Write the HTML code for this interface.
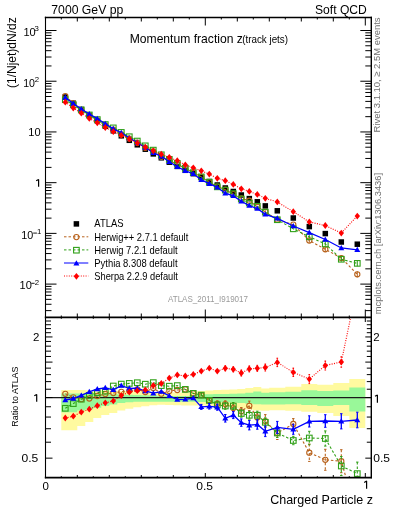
<!DOCTYPE html><html><head><meta charset="utf-8"><style>html,body{margin:0;padding:0;background:#fff;width:393px;height:512px;overflow:hidden}</style></head><body><svg width="393" height="512" viewBox="0 0 393 512" style="display:block;will-change:transform">
<defs><clipPath id="cm"><rect x="45.5" y="17.5" width="326" height="300"/></clipPath><clipPath id="cr"><rect x="45.5" y="317.5" width="326" height="160.4"/></clipPath></defs>
<rect width="393" height="512" fill="#fff"/>
<g clip-path="url(#cr)">
<path d="M61.30,390.00 L69.30,390.00 L69.30,390.00 L77.30,390.00 L77.30,390.00 L85.30,390.00 L85.30,390.30 L93.30,390.30 L93.30,390.50 L101.30,390.50 L101.30,390.70 L109.30,390.70 L109.30,390.80 L117.30,390.80 L117.30,391.00 L125.30,391.00 L125.30,391.20 L133.30,391.20 L133.30,391.50 L141.30,391.50 L141.30,391.80 L149.30,391.80 L149.30,392.00 L157.30,392.00 L157.30,392.30 L165.30,392.30 L165.30,392.50 L173.30,392.50 L173.30,392.50 L181.30,392.50 L181.30,392.50 L189.30,392.50 L189.30,392.00 L197.30,392.00 L197.30,391.00 L205.30,391.00 L205.30,390.50 L213.30,390.50 L213.30,390.00 L221.30,390.00 L221.30,389.80 L229.30,389.80 L229.30,389.50 L237.30,389.50 L237.30,389.00 L245.30,389.00 L245.30,388.00 L253.30,388.00 L253.30,387.10 L261.30,387.10 L261.30,388.40 L269.30,388.40 L269.30,387.70 L285.30,387.70 L285.30,386.70 L301.30,386.70 L301.30,383.90 L317.30,383.90 L317.30,384.80 L333.30,384.80 L333.30,383.10 L349.30,383.10 L349.30,379.00 L365.30,379.00 L365.30,427.90 L349.30,427.90 L349.30,416.00 L333.30,416.00 L333.30,413.00 L317.30,413.00 L317.30,411.80 L301.30,411.80 L301.30,410.80 L285.30,410.80 L285.30,410.30 L269.30,410.30 L269.30,410.80 L261.30,410.80 L261.30,410.50 L253.30,410.50 L253.30,409.50 L245.30,409.50 L245.30,408.50 L237.30,408.50 L237.30,407.50 L229.30,407.50 L229.30,406.50 L221.30,406.50 L221.30,406.50 L213.30,406.50 L213.30,406.00 L205.30,406.00 L205.30,405.50 L197.30,405.50 L197.30,405.50 L189.30,405.50 L189.30,405.40 L181.30,405.40 L181.30,405.20 L173.30,405.20 L173.30,405.00 L165.30,405.00 L165.30,404.80 L157.30,404.80 L157.30,405.30 L149.30,405.30 L149.30,406.20 L141.30,406.20 L141.30,407.30 L133.30,407.30 L133.30,408.70 L125.30,408.70 L125.30,410.50 L117.30,410.50 L117.30,413.00 L109.30,413.00 L109.30,415.00 L101.30,415.00 L101.30,418.00 L93.30,418.00 L93.30,422.00 L85.30,422.00 L85.30,426.00 L77.30,426.00 L77.30,430.30 L69.30,430.30 L69.30,430.30 L61.30,430.30Z" fill="#fffaa0"/>
<path d="M61.30,393.40 L69.30,393.40 L69.30,393.40 L77.30,393.40 L77.30,393.50 L85.30,393.50 L85.30,393.80 L93.30,393.80 L93.30,394.00 L101.30,394.00 L101.30,394.20 L109.30,394.20 L109.30,394.30 L117.30,394.30 L117.30,394.50 L125.30,394.50 L125.30,394.70 L133.30,394.70 L133.30,395.00 L141.30,395.00 L141.30,395.30 L149.30,395.30 L149.30,395.50 L157.30,395.50 L157.30,396.00 L165.30,396.00 L165.30,396.00 L173.30,396.00 L173.30,396.00 L181.30,396.00 L181.30,396.00 L189.30,396.00 L189.30,395.50 L197.30,395.50 L197.30,394.50 L205.30,394.50 L205.30,394.30 L213.30,394.30 L213.30,394.10 L221.30,394.10 L221.30,394.10 L229.30,394.10 L229.30,393.80 L237.30,393.80 L237.30,393.50 L245.30,393.50 L245.30,392.80 L253.30,392.80 L253.30,391.50 L261.30,391.50 L261.30,392.80 L269.30,392.80 L269.30,392.20 L285.30,392.20 L285.30,391.80 L301.30,391.80 L301.30,390.30 L317.30,390.30 L317.30,390.90 L333.30,390.90 L333.30,390.50 L349.30,390.50 L349.30,387.50 L365.30,387.50 L365.30,411.50 L349.30,411.50 L349.30,405.00 L333.30,405.00 L333.30,405.90 L317.30,405.90 L317.30,404.90 L301.30,404.90 L301.30,404.20 L285.30,404.20 L285.30,404.60 L269.30,404.60 L269.30,404.60 L261.30,404.60 L261.30,404.20 L253.30,404.20 L253.30,403.80 L245.30,403.80 L245.30,403.00 L237.30,403.00 L237.30,402.50 L229.30,402.50 L229.30,402.20 L221.30,402.20 L221.30,402.20 L213.30,402.20 L213.30,402.00 L205.30,402.00 L205.30,402.00 L197.30,402.00 L197.30,401.80 L189.30,401.80 L189.30,401.80 L181.30,401.80 L181.30,401.80 L173.30,401.80 L173.30,401.80 L165.30,401.80 L165.30,401.80 L157.30,401.80 L157.30,401.80 L149.30,401.80 L149.30,401.80 L141.30,401.80 L141.30,401.80 L133.30,401.80 L133.30,402.20 L125.30,402.20 L125.30,403.10 L117.30,403.10 L117.30,404.50 L109.30,404.50 L109.30,406.10 L101.30,406.10 L101.30,407.80 L93.30,407.80 L93.30,409.20 L85.30,409.20 L85.30,410.60 L77.30,410.60 L77.30,412.30 L69.30,412.30 L69.30,412.30 L61.30,412.30Z" fill="#99f899"/>
<line x1="45.5" y1="397.55" x2="371.5" y2="397.55" stroke="#1a1a1a" stroke-width="1.3"/>
</g>
<g clip-path="url(#cr)">
<path d="M65.30,393.80 L73.30,397.30 L81.30,399.20 L89.30,398.50 L97.30,396.00 L105.30,394.00 L113.30,393.00 L121.30,391.80 L129.30,390.80 L137.30,389.40 L145.30,392.00 L153.30,388.00 L161.30,393.70 L169.30,391.00 L177.30,390.00 L185.30,389.40 L193.30,393.40 L201.30,395.10 L209.30,400.40 L217.30,403.80 L225.30,404.10 L233.30,408.10 L241.30,411.30 L249.30,405.80 L257.30,417.50 L265.30,421.10 L277.30,433.00 L293.30,424.00 L309.30,452.70 L325.30,459.80 L341.30,461.20 L357.30,517.00" fill="none" stroke="#b8621c" stroke-width="1.1" stroke-dasharray="2.5 2"/>
<path d="M201.30,392.90V397.30" stroke="#b8621c" stroke-width="1.1" stroke-dasharray="2.5 2"/>
<path d="M200.10,392.90H202.50M200.10,397.30H202.50" stroke="#b8621c" stroke-width="1"/>
<path d="M209.30,397.90V402.90" stroke="#b8621c" stroke-width="1.1" stroke-dasharray="2.5 2"/>
<path d="M208.10,397.90H210.50M208.10,402.90H210.50" stroke="#b8621c" stroke-width="1"/>
<path d="M217.30,400.80V406.80" stroke="#b8621c" stroke-width="1.1" stroke-dasharray="2.5 2"/>
<path d="M216.10,400.80H218.50M216.10,406.80H218.50" stroke="#b8621c" stroke-width="1"/>
<path d="M225.30,400.80V407.40" stroke="#b8621c" stroke-width="1.1" stroke-dasharray="2.5 2"/>
<path d="M224.10,400.80H226.50M224.10,407.40H226.50" stroke="#b8621c" stroke-width="1"/>
<path d="M233.30,404.60V411.60" stroke="#b8621c" stroke-width="1.1" stroke-dasharray="2.5 2"/>
<path d="M232.10,404.60H234.50M232.10,411.60H234.50" stroke="#b8621c" stroke-width="1"/>
<path d="M241.30,407.50V415.10" stroke="#b8621c" stroke-width="1.1" stroke-dasharray="2.5 2"/>
<path d="M240.10,407.50H242.50M240.10,415.10H242.50" stroke="#b8621c" stroke-width="1"/>
<path d="M249.30,401.10V410.50" stroke="#b8621c" stroke-width="1.1" stroke-dasharray="2.5 2"/>
<path d="M248.10,401.10H250.50M248.10,410.50H250.50" stroke="#b8621c" stroke-width="1"/>
<path d="M257.30,413.00V422.00" stroke="#b8621c" stroke-width="1.1" stroke-dasharray="2.5 2"/>
<path d="M256.10,413.00H258.50M256.10,422.00H258.50" stroke="#b8621c" stroke-width="1"/>
<path d="M265.30,414.60V427.60" stroke="#b8621c" stroke-width="1.1" stroke-dasharray="2.5 2"/>
<path d="M264.10,414.60H266.50M264.10,427.60H266.50" stroke="#b8621c" stroke-width="1"/>
<path d="M277.30,426.50V439.50" stroke="#b8621c" stroke-width="1.1" stroke-dasharray="2.5 2"/>
<path d="M276.10,426.50H278.50M276.10,439.50H278.50" stroke="#b8621c" stroke-width="1"/>
<path d="M293.30,418.60V429.40" stroke="#b8621c" stroke-width="1.1" stroke-dasharray="2.5 2"/>
<path d="M292.10,418.60H294.50M292.10,429.40H294.50" stroke="#b8621c" stroke-width="1"/>
<path d="M309.30,444.00V461.40" stroke="#b8621c" stroke-width="1.1" stroke-dasharray="2.5 2"/>
<path d="M308.10,444.00H310.50M308.10,461.40H310.50" stroke="#b8621c" stroke-width="1"/>
<path d="M325.30,449.30V470.30" stroke="#b8621c" stroke-width="1.1" stroke-dasharray="2.5 2"/>
<path d="M324.10,449.30H326.50M324.10,470.30H326.50" stroke="#b8621c" stroke-width="1"/>
<path d="M341.30,449.70V472.70" stroke="#b8621c" stroke-width="1.1" stroke-dasharray="2.5 2"/>
<path d="M340.10,449.70H342.50M340.10,472.70H342.50" stroke="#b8621c" stroke-width="1"/>
<path d="M357.30,505.00V529.00" stroke="#b8621c" stroke-width="1.1" stroke-dasharray="2.5 2"/>
<path d="M356.10,505.00H358.50M356.10,529.00H358.50" stroke="#b8621c" stroke-width="1"/>
<circle cx="65.30" cy="393.80" r="2.6" fill="none" stroke="#b8621c" stroke-width="1.1"/>
<circle cx="73.30" cy="397.30" r="2.6" fill="none" stroke="#b8621c" stroke-width="1.1"/>
<circle cx="81.30" cy="399.20" r="2.6" fill="none" stroke="#b8621c" stroke-width="1.1"/>
<circle cx="89.30" cy="398.50" r="2.6" fill="none" stroke="#b8621c" stroke-width="1.1"/>
<circle cx="97.30" cy="396.00" r="2.6" fill="none" stroke="#b8621c" stroke-width="1.1"/>
<circle cx="105.30" cy="394.00" r="2.6" fill="none" stroke="#b8621c" stroke-width="1.1"/>
<circle cx="113.30" cy="393.00" r="2.6" fill="none" stroke="#b8621c" stroke-width="1.1"/>
<circle cx="121.30" cy="391.80" r="2.6" fill="none" stroke="#b8621c" stroke-width="1.1"/>
<circle cx="129.30" cy="390.80" r="2.6" fill="none" stroke="#b8621c" stroke-width="1.1"/>
<circle cx="137.30" cy="389.40" r="2.6" fill="none" stroke="#b8621c" stroke-width="1.1"/>
<circle cx="145.30" cy="392.00" r="2.6" fill="none" stroke="#b8621c" stroke-width="1.1"/>
<circle cx="153.30" cy="388.00" r="2.6" fill="none" stroke="#b8621c" stroke-width="1.1"/>
<circle cx="161.30" cy="393.70" r="2.6" fill="none" stroke="#b8621c" stroke-width="1.1"/>
<circle cx="169.30" cy="391.00" r="2.6" fill="none" stroke="#b8621c" stroke-width="1.1"/>
<circle cx="177.30" cy="390.00" r="2.6" fill="none" stroke="#b8621c" stroke-width="1.1"/>
<circle cx="185.30" cy="389.40" r="2.6" fill="none" stroke="#b8621c" stroke-width="1.1"/>
<circle cx="193.30" cy="393.40" r="2.6" fill="none" stroke="#b8621c" stroke-width="1.1"/>
<circle cx="201.30" cy="395.10" r="2.6" fill="none" stroke="#b8621c" stroke-width="1.1"/>
<circle cx="209.30" cy="400.40" r="2.6" fill="none" stroke="#b8621c" stroke-width="1.1"/>
<circle cx="217.30" cy="403.80" r="2.6" fill="none" stroke="#b8621c" stroke-width="1.1"/>
<circle cx="225.30" cy="404.10" r="2.6" fill="none" stroke="#b8621c" stroke-width="1.1"/>
<circle cx="233.30" cy="408.10" r="2.6" fill="none" stroke="#b8621c" stroke-width="1.1"/>
<circle cx="241.30" cy="411.30" r="2.6" fill="none" stroke="#b8621c" stroke-width="1.1"/>
<circle cx="249.30" cy="405.80" r="2.6" fill="none" stroke="#b8621c" stroke-width="1.1"/>
<circle cx="257.30" cy="417.50" r="2.6" fill="none" stroke="#b8621c" stroke-width="1.1"/>
<circle cx="265.30" cy="421.10" r="2.6" fill="none" stroke="#b8621c" stroke-width="1.1"/>
<circle cx="277.30" cy="433.00" r="2.6" fill="none" stroke="#b8621c" stroke-width="1.1"/>
<circle cx="293.30" cy="424.00" r="2.6" fill="none" stroke="#b8621c" stroke-width="1.1"/>
<circle cx="309.30" cy="452.70" r="2.6" fill="none" stroke="#b8621c" stroke-width="1.1"/>
<circle cx="325.30" cy="459.80" r="2.6" fill="none" stroke="#b8621c" stroke-width="1.1"/>
<circle cx="341.30" cy="461.20" r="2.6" fill="none" stroke="#b8621c" stroke-width="1.1"/>
<circle cx="357.30" cy="517.00" r="2.6" fill="none" stroke="#b8621c" stroke-width="1.1"/>
<path d="M65.30,408.30 L73.30,403.60 L81.30,399.20 L89.30,395.40 L97.30,392.70 L105.30,391.10 L113.30,386.00 L121.30,384.10 L129.30,383.40 L137.30,382.70 L145.30,384.20 L153.30,382.60 L161.30,385.60 L169.30,386.20 L177.30,385.60 L185.30,389.40 L193.30,393.40 L201.30,395.10 L209.30,400.40 L217.30,404.90 L225.30,406.00 L233.30,406.00 L241.30,413.50 L249.30,415.30 L257.30,415.20 L265.30,422.30 L277.30,433.00 L293.30,440.50 L309.30,438.00 L325.30,438.50 L341.30,466.00 L357.30,473.60" fill="none" stroke="#30a018" stroke-width="1.1" stroke-dasharray="2.5 2"/>
<path d="M201.30,392.90V397.30" stroke="#30a018" stroke-width="1.1" stroke-dasharray="2.5 2"/>
<path d="M200.10,392.90H202.50M200.10,397.30H202.50" stroke="#30a018" stroke-width="1"/>
<path d="M209.30,397.90V402.90" stroke="#30a018" stroke-width="1.1" stroke-dasharray="2.5 2"/>
<path d="M208.10,397.90H210.50M208.10,402.90H210.50" stroke="#30a018" stroke-width="1"/>
<path d="M217.30,401.90V407.90" stroke="#30a018" stroke-width="1.1" stroke-dasharray="2.5 2"/>
<path d="M216.10,401.90H218.50M216.10,407.90H218.50" stroke="#30a018" stroke-width="1"/>
<path d="M225.30,402.70V409.30" stroke="#30a018" stroke-width="1.1" stroke-dasharray="2.5 2"/>
<path d="M224.10,402.70H226.50M224.10,409.30H226.50" stroke="#30a018" stroke-width="1"/>
<path d="M233.30,402.50V409.50" stroke="#30a018" stroke-width="1.1" stroke-dasharray="2.5 2"/>
<path d="M232.10,402.50H234.50M232.10,409.50H234.50" stroke="#30a018" stroke-width="1"/>
<path d="M241.30,409.80V417.20" stroke="#30a018" stroke-width="1.1" stroke-dasharray="2.5 2"/>
<path d="M240.10,409.80H242.50M240.10,417.20H242.50" stroke="#30a018" stroke-width="1"/>
<path d="M249.30,411.40V419.20" stroke="#30a018" stroke-width="1.1" stroke-dasharray="2.5 2"/>
<path d="M248.10,411.40H250.50M248.10,419.20H250.50" stroke="#30a018" stroke-width="1"/>
<path d="M257.30,411.20V419.20" stroke="#30a018" stroke-width="1.1" stroke-dasharray="2.5 2"/>
<path d="M256.10,411.20H258.50M256.10,419.20H258.50" stroke="#30a018" stroke-width="1"/>
<path d="M265.30,417.80V426.80" stroke="#30a018" stroke-width="1.1" stroke-dasharray="2.5 2"/>
<path d="M264.10,417.80H266.50M264.10,426.80H266.50" stroke="#30a018" stroke-width="1"/>
<path d="M277.30,428.50V437.50" stroke="#30a018" stroke-width="1.1" stroke-dasharray="2.5 2"/>
<path d="M276.10,428.50H278.50M276.10,437.50H278.50" stroke="#30a018" stroke-width="1"/>
<path d="M293.30,436.30V444.70" stroke="#30a018" stroke-width="1.1" stroke-dasharray="2.5 2"/>
<path d="M292.10,436.30H294.50M292.10,444.70H294.50" stroke="#30a018" stroke-width="1"/>
<path d="M309.30,431.30V444.70" stroke="#30a018" stroke-width="1.1" stroke-dasharray="2.5 2"/>
<path d="M308.10,431.30H310.50M308.10,444.70H310.50" stroke="#30a018" stroke-width="1"/>
<path d="M325.30,430.90V446.10" stroke="#30a018" stroke-width="1.1" stroke-dasharray="2.5 2"/>
<path d="M324.10,430.90H326.50M324.10,446.10H326.50" stroke="#30a018" stroke-width="1"/>
<path d="M341.30,456.50V475.50" stroke="#30a018" stroke-width="1.1" stroke-dasharray="2.5 2"/>
<path d="M340.10,456.50H342.50M340.10,475.50H342.50" stroke="#30a018" stroke-width="1"/>
<path d="M357.30,462.10V485.10" stroke="#30a018" stroke-width="1.1" stroke-dasharray="2.5 2"/>
<path d="M356.10,462.10H358.50M356.10,485.10H358.50" stroke="#30a018" stroke-width="1"/>
<rect x="62.50" y="405.50" width="5.6" height="5.6" fill="none" stroke="#30a018" stroke-width="1.1"/>
<rect x="70.50" y="400.80" width="5.6" height="5.6" fill="none" stroke="#30a018" stroke-width="1.1"/>
<rect x="78.50" y="396.40" width="5.6" height="5.6" fill="none" stroke="#30a018" stroke-width="1.1"/>
<rect x="86.50" y="392.60" width="5.6" height="5.6" fill="none" stroke="#30a018" stroke-width="1.1"/>
<rect x="94.50" y="389.90" width="5.6" height="5.6" fill="none" stroke="#30a018" stroke-width="1.1"/>
<rect x="102.50" y="388.30" width="5.6" height="5.6" fill="none" stroke="#30a018" stroke-width="1.1"/>
<rect x="110.50" y="383.20" width="5.6" height="5.6" fill="none" stroke="#30a018" stroke-width="1.1"/>
<rect x="118.50" y="381.30" width="5.6" height="5.6" fill="none" stroke="#30a018" stroke-width="1.1"/>
<rect x="126.50" y="380.60" width="5.6" height="5.6" fill="none" stroke="#30a018" stroke-width="1.1"/>
<rect x="134.50" y="379.90" width="5.6" height="5.6" fill="none" stroke="#30a018" stroke-width="1.1"/>
<rect x="142.50" y="381.40" width="5.6" height="5.6" fill="none" stroke="#30a018" stroke-width="1.1"/>
<rect x="150.50" y="379.80" width="5.6" height="5.6" fill="none" stroke="#30a018" stroke-width="1.1"/>
<rect x="158.50" y="382.80" width="5.6" height="5.6" fill="none" stroke="#30a018" stroke-width="1.1"/>
<rect x="166.50" y="383.40" width="5.6" height="5.6" fill="none" stroke="#30a018" stroke-width="1.1"/>
<rect x="174.50" y="382.80" width="5.6" height="5.6" fill="none" stroke="#30a018" stroke-width="1.1"/>
<rect x="182.50" y="386.60" width="5.6" height="5.6" fill="none" stroke="#30a018" stroke-width="1.1"/>
<rect x="190.50" y="390.60" width="5.6" height="5.6" fill="none" stroke="#30a018" stroke-width="1.1"/>
<rect x="198.50" y="392.30" width="5.6" height="5.6" fill="none" stroke="#30a018" stroke-width="1.1"/>
<rect x="206.50" y="397.60" width="5.6" height="5.6" fill="none" stroke="#30a018" stroke-width="1.1"/>
<rect x="214.50" y="402.10" width="5.6" height="5.6" fill="none" stroke="#30a018" stroke-width="1.1"/>
<rect x="222.50" y="403.20" width="5.6" height="5.6" fill="none" stroke="#30a018" stroke-width="1.1"/>
<rect x="230.50" y="403.20" width="5.6" height="5.6" fill="none" stroke="#30a018" stroke-width="1.1"/>
<rect x="238.50" y="410.70" width="5.6" height="5.6" fill="none" stroke="#30a018" stroke-width="1.1"/>
<rect x="246.50" y="412.50" width="5.6" height="5.6" fill="none" stroke="#30a018" stroke-width="1.1"/>
<rect x="254.50" y="412.40" width="5.6" height="5.6" fill="none" stroke="#30a018" stroke-width="1.1"/>
<rect x="262.50" y="419.50" width="5.6" height="5.6" fill="none" stroke="#30a018" stroke-width="1.1"/>
<rect x="274.50" y="430.20" width="5.6" height="5.6" fill="none" stroke="#30a018" stroke-width="1.1"/>
<rect x="290.50" y="437.70" width="5.6" height="5.6" fill="none" stroke="#30a018" stroke-width="1.1"/>
<rect x="306.50" y="435.20" width="5.6" height="5.6" fill="none" stroke="#30a018" stroke-width="1.1"/>
<rect x="322.50" y="435.70" width="5.6" height="5.6" fill="none" stroke="#30a018" stroke-width="1.1"/>
<rect x="338.50" y="463.20" width="5.6" height="5.6" fill="none" stroke="#30a018" stroke-width="1.1"/>
<rect x="354.50" y="470.80" width="5.6" height="5.6" fill="none" stroke="#30a018" stroke-width="1.1"/>
<path d="M65.30,400.00 L73.30,398.60 L81.30,395.40 L89.30,391.80 L97.30,389.00 L105.30,387.80 L113.30,389.80 L121.30,385.60 L129.30,388.30 L137.30,388.20 L145.30,391.00 L153.30,393.20 L161.30,391.60 L169.30,395.90 L177.30,399.60 L185.30,399.40 L193.30,398.10 L201.30,406.90 L209.30,406.30 L217.30,407.20 L225.30,418.30 L233.30,415.10 L241.30,422.60 L249.30,425.20 L257.30,424.50 L265.30,431.30 L277.30,427.40 L293.30,429.30 L309.30,421.40 L325.30,421.00 L341.30,421.30 L357.30,420.00" fill="none" stroke="#0000ff" stroke-width="1.3"/>
<path d="M201.30,404.40V409.40" stroke="#0000ff" stroke-width="1.3"/>
<path d="M200.10,404.40H202.50M200.10,409.40H202.50" stroke="#0000ff" stroke-width="1"/>
<path d="M209.30,403.50V409.10" stroke="#0000ff" stroke-width="1.3"/>
<path d="M208.10,403.50H210.50M208.10,409.10H210.50" stroke="#0000ff" stroke-width="1"/>
<path d="M217.30,404.20V410.20" stroke="#0000ff" stroke-width="1.3"/>
<path d="M216.10,404.20H218.50M216.10,410.20H218.50" stroke="#0000ff" stroke-width="1"/>
<path d="M225.30,414.50V422.10" stroke="#0000ff" stroke-width="1.3"/>
<path d="M224.10,414.50H226.50M224.10,422.10H226.50" stroke="#0000ff" stroke-width="1"/>
<path d="M233.30,411.60V418.60" stroke="#0000ff" stroke-width="1.3"/>
<path d="M232.10,411.60H234.50M232.10,418.60H234.50" stroke="#0000ff" stroke-width="1"/>
<path d="M241.30,418.90V426.30" stroke="#0000ff" stroke-width="1.3"/>
<path d="M240.10,418.90H242.50M240.10,426.30H242.50" stroke="#0000ff" stroke-width="1"/>
<path d="M249.30,420.50V429.90" stroke="#0000ff" stroke-width="1.3"/>
<path d="M248.10,420.50H250.50M248.10,429.90H250.50" stroke="#0000ff" stroke-width="1"/>
<path d="M257.30,419.80V429.20" stroke="#0000ff" stroke-width="1.3"/>
<path d="M256.10,419.80H258.50M256.10,429.20H258.50" stroke="#0000ff" stroke-width="1"/>
<path d="M265.30,426.00V436.60" stroke="#0000ff" stroke-width="1.3"/>
<path d="M264.10,426.00H266.50M264.10,436.60H266.50" stroke="#0000ff" stroke-width="1"/>
<path d="M277.30,421.40V433.40" stroke="#0000ff" stroke-width="1.3"/>
<path d="M276.10,421.40H278.50M276.10,433.40H278.50" stroke="#0000ff" stroke-width="1"/>
<path d="M293.30,424.30V434.30" stroke="#0000ff" stroke-width="1.3"/>
<path d="M292.10,424.30H294.50M292.10,434.30H294.50" stroke="#0000ff" stroke-width="1"/>
<path d="M309.30,415.80V427.00" stroke="#0000ff" stroke-width="1.3"/>
<path d="M308.10,415.80H310.50M308.10,427.00H310.50" stroke="#0000ff" stroke-width="1"/>
<path d="M325.30,414.70V427.30" stroke="#0000ff" stroke-width="1.3"/>
<path d="M324.10,414.70H326.50M324.10,427.30H326.50" stroke="#0000ff" stroke-width="1"/>
<path d="M341.30,413.70V428.90" stroke="#0000ff" stroke-width="1.3"/>
<path d="M340.10,413.70H342.50M340.10,428.90H342.50" stroke="#0000ff" stroke-width="1"/>
<path d="M357.30,412.20V427.80" stroke="#0000ff" stroke-width="1.3"/>
<path d="M356.10,412.20H358.50M356.10,427.80H358.50" stroke="#0000ff" stroke-width="1"/>
<path d="M62.30,402.18L68.30,402.18L65.30,396.98Z" fill="#0000ff"/>
<path d="M70.30,400.78L76.30,400.78L73.30,395.58Z" fill="#0000ff"/>
<path d="M78.30,397.58L84.30,397.58L81.30,392.38Z" fill="#0000ff"/>
<path d="M86.30,393.98L92.30,393.98L89.30,388.78Z" fill="#0000ff"/>
<path d="M94.30,391.18L100.30,391.18L97.30,385.98Z" fill="#0000ff"/>
<path d="M102.30,389.98L108.30,389.98L105.30,384.78Z" fill="#0000ff"/>
<path d="M110.30,391.98L116.30,391.98L113.30,386.78Z" fill="#0000ff"/>
<path d="M118.30,387.78L124.30,387.78L121.30,382.58Z" fill="#0000ff"/>
<path d="M126.30,390.48L132.30,390.48L129.30,385.28Z" fill="#0000ff"/>
<path d="M134.30,390.38L140.30,390.38L137.30,385.18Z" fill="#0000ff"/>
<path d="M142.30,393.18L148.30,393.18L145.30,387.98Z" fill="#0000ff"/>
<path d="M150.30,395.38L156.30,395.38L153.30,390.18Z" fill="#0000ff"/>
<path d="M158.30,393.78L164.30,393.78L161.30,388.58Z" fill="#0000ff"/>
<path d="M166.30,398.08L172.30,398.08L169.30,392.88Z" fill="#0000ff"/>
<path d="M174.30,401.78L180.30,401.78L177.30,396.58Z" fill="#0000ff"/>
<path d="M182.30,401.58L188.30,401.58L185.30,396.38Z" fill="#0000ff"/>
<path d="M190.30,400.28L196.30,400.28L193.30,395.08Z" fill="#0000ff"/>
<path d="M198.30,409.08L204.30,409.08L201.30,403.88Z" fill="#0000ff"/>
<path d="M206.30,408.48L212.30,408.48L209.30,403.28Z" fill="#0000ff"/>
<path d="M214.30,409.38L220.30,409.38L217.30,404.18Z" fill="#0000ff"/>
<path d="M222.30,420.48L228.30,420.48L225.30,415.28Z" fill="#0000ff"/>
<path d="M230.30,417.28L236.30,417.28L233.30,412.08Z" fill="#0000ff"/>
<path d="M238.30,424.78L244.30,424.78L241.30,419.58Z" fill="#0000ff"/>
<path d="M246.30,427.38L252.30,427.38L249.30,422.18Z" fill="#0000ff"/>
<path d="M254.30,426.68L260.30,426.68L257.30,421.48Z" fill="#0000ff"/>
<path d="M262.30,433.48L268.30,433.48L265.30,428.28Z" fill="#0000ff"/>
<path d="M274.30,429.58L280.30,429.58L277.30,424.38Z" fill="#0000ff"/>
<path d="M290.30,431.48L296.30,431.48L293.30,426.28Z" fill="#0000ff"/>
<path d="M306.30,423.58L312.30,423.58L309.30,418.38Z" fill="#0000ff"/>
<path d="M322.30,423.18L328.30,423.18L325.30,417.98Z" fill="#0000ff"/>
<path d="M338.30,423.48L344.30,423.48L341.30,418.28Z" fill="#0000ff"/>
<path d="M354.30,422.18L360.30,422.18L357.30,416.98Z" fill="#0000ff"/>
<path d="M65.30,418.00 L73.30,416.20 L81.30,412.10 L89.30,409.20 L97.30,405.70 L105.30,402.80 L113.30,400.90 L121.30,395.50 L129.30,392.00 L137.30,390.70 L145.30,389.90 L153.30,385.40 L161.30,383.50 L169.30,378.10 L177.30,374.90 L185.30,376.00 L193.30,374.40 L201.30,371.10 L209.30,368.20 L217.30,371.10 L225.30,368.30 L233.30,369.30 L241.30,373.00 L249.30,368.90 L257.30,368.30 L265.30,367.50 L277.30,362.40 L293.30,372.30 L309.30,379.10 L325.30,365.50 L341.30,362.00 L357.30,286.00" fill="none" stroke="#ff0000" stroke-width="1.1" stroke-dasharray="1 1.4"/>
<path d="M225.30,365.80V370.80" stroke="#ff0000" stroke-width="1.1" stroke-dasharray="1 1.4"/>
<path d="M224.50,365.80H226.10M224.50,370.80H226.10" stroke="#ff0000" stroke-width="1"/>
<path d="M233.30,366.80V371.80" stroke="#ff0000" stroke-width="1.1" stroke-dasharray="1 1.4"/>
<path d="M232.50,366.80H234.10M232.50,371.80H234.10" stroke="#ff0000" stroke-width="1"/>
<path d="M241.30,370.00V376.00" stroke="#ff0000" stroke-width="1.1" stroke-dasharray="1 1.4"/>
<path d="M240.50,370.00H242.10M240.50,376.00H242.10" stroke="#ff0000" stroke-width="1"/>
<path d="M249.30,365.90V371.90" stroke="#ff0000" stroke-width="1.1" stroke-dasharray="1 1.4"/>
<path d="M248.50,365.90H250.10M248.50,371.90H250.10" stroke="#ff0000" stroke-width="1"/>
<path d="M257.30,365.30V371.30" stroke="#ff0000" stroke-width="1.1" stroke-dasharray="1 1.4"/>
<path d="M256.50,365.30H258.10M256.50,371.30H258.10" stroke="#ff0000" stroke-width="1"/>
<path d="M265.30,364.00V371.00" stroke="#ff0000" stroke-width="1.1" stroke-dasharray="1 1.4"/>
<path d="M264.50,364.00H266.10M264.50,371.00H266.10" stroke="#ff0000" stroke-width="1"/>
<path d="M277.30,358.20V366.60" stroke="#ff0000" stroke-width="1.1" stroke-dasharray="1 1.4"/>
<path d="M276.50,358.20H278.10M276.50,366.60H278.10" stroke="#ff0000" stroke-width="1"/>
<path d="M293.30,368.10V376.50" stroke="#ff0000" stroke-width="1.1" stroke-dasharray="1 1.4"/>
<path d="M292.50,368.10H294.10M292.50,376.50H294.10" stroke="#ff0000" stroke-width="1"/>
<path d="M309.30,374.60V383.60" stroke="#ff0000" stroke-width="1.1" stroke-dasharray="1 1.4"/>
<path d="M308.50,374.60H310.10M308.50,383.60H310.10" stroke="#ff0000" stroke-width="1"/>
<path d="M325.30,361.00V370.00" stroke="#ff0000" stroke-width="1.1" stroke-dasharray="1 1.4"/>
<path d="M324.50,361.00H326.10M324.50,370.00H326.10" stroke="#ff0000" stroke-width="1"/>
<path d="M341.30,356.80V367.20" stroke="#ff0000" stroke-width="1.1" stroke-dasharray="1 1.4"/>
<path d="M340.50,356.80H342.10M340.50,367.20H342.10" stroke="#ff0000" stroke-width="1"/>
<path d="M357.30,280.00V292.00" stroke="#ff0000" stroke-width="1.1" stroke-dasharray="1 1.4"/>
<path d="M356.50,280.00H358.10M356.50,292.00H358.10" stroke="#ff0000" stroke-width="1"/>
<path d="M65.30,414.60L68.00,418.00L65.30,421.40L62.60,418.00Z" fill="#ff0000"/>
<path d="M73.30,412.80L76.00,416.20L73.30,419.60L70.60,416.20Z" fill="#ff0000"/>
<path d="M81.30,408.70L84.00,412.10L81.30,415.50L78.60,412.10Z" fill="#ff0000"/>
<path d="M89.30,405.80L92.00,409.20L89.30,412.60L86.60,409.20Z" fill="#ff0000"/>
<path d="M97.30,402.30L100.00,405.70L97.30,409.10L94.60,405.70Z" fill="#ff0000"/>
<path d="M105.30,399.40L108.00,402.80L105.30,406.20L102.60,402.80Z" fill="#ff0000"/>
<path d="M113.30,397.50L116.00,400.90L113.30,404.30L110.60,400.90Z" fill="#ff0000"/>
<path d="M121.30,392.10L124.00,395.50L121.30,398.90L118.60,395.50Z" fill="#ff0000"/>
<path d="M129.30,388.60L132.00,392.00L129.30,395.40L126.60,392.00Z" fill="#ff0000"/>
<path d="M137.30,387.30L140.00,390.70L137.30,394.10L134.60,390.70Z" fill="#ff0000"/>
<path d="M145.30,386.50L148.00,389.90L145.30,393.30L142.60,389.90Z" fill="#ff0000"/>
<path d="M153.30,382.00L156.00,385.40L153.30,388.80L150.60,385.40Z" fill="#ff0000"/>
<path d="M161.30,380.10L164.00,383.50L161.30,386.90L158.60,383.50Z" fill="#ff0000"/>
<path d="M169.30,374.70L172.00,378.10L169.30,381.50L166.60,378.10Z" fill="#ff0000"/>
<path d="M177.30,371.50L180.00,374.90L177.30,378.30L174.60,374.90Z" fill="#ff0000"/>
<path d="M185.30,372.60L188.00,376.00L185.30,379.40L182.60,376.00Z" fill="#ff0000"/>
<path d="M193.30,371.00L196.00,374.40L193.30,377.80L190.60,374.40Z" fill="#ff0000"/>
<path d="M201.30,367.70L204.00,371.10L201.30,374.50L198.60,371.10Z" fill="#ff0000"/>
<path d="M209.30,364.80L212.00,368.20L209.30,371.60L206.60,368.20Z" fill="#ff0000"/>
<path d="M217.30,367.70L220.00,371.10L217.30,374.50L214.60,371.10Z" fill="#ff0000"/>
<path d="M225.30,364.90L228.00,368.30L225.30,371.70L222.60,368.30Z" fill="#ff0000"/>
<path d="M233.30,365.90L236.00,369.30L233.30,372.70L230.60,369.30Z" fill="#ff0000"/>
<path d="M241.30,369.60L244.00,373.00L241.30,376.40L238.60,373.00Z" fill="#ff0000"/>
<path d="M249.30,365.50L252.00,368.90L249.30,372.30L246.60,368.90Z" fill="#ff0000"/>
<path d="M257.30,364.90L260.00,368.30L257.30,371.70L254.60,368.30Z" fill="#ff0000"/>
<path d="M265.30,364.10L268.00,367.50L265.30,370.90L262.60,367.50Z" fill="#ff0000"/>
<path d="M277.30,359.00L280.00,362.40L277.30,365.80L274.60,362.40Z" fill="#ff0000"/>
<path d="M293.30,368.90L296.00,372.30L293.30,375.70L290.60,372.30Z" fill="#ff0000"/>
<path d="M309.30,375.70L312.00,379.10L309.30,382.50L306.60,379.10Z" fill="#ff0000"/>
<path d="M325.30,362.10L328.00,365.50L325.30,368.90L322.60,365.50Z" fill="#ff0000"/>
<path d="M341.30,358.60L344.00,362.00L341.30,365.40L338.60,362.00Z" fill="#ff0000"/>
<path d="M357.30,282.60L360.00,286.00L357.30,289.40L354.60,286.00Z" fill="#ff0000"/>
</g>
<g clip-path="url(#cm)">
<rect x="62.55" y="94.25" width="5.5" height="5.5" fill="#000"/>
<rect x="70.55" y="100.55" width="5.5" height="5.5" fill="#000"/>
<rect x="78.55" y="106.75" width="5.5" height="5.5" fill="#000"/>
<rect x="86.55" y="112.75" width="5.5" height="5.5" fill="#000"/>
<rect x="94.55" y="118.05" width="5.5" height="5.5" fill="#000"/>
<rect x="102.55" y="123.45" width="5.5" height="5.5" fill="#000"/>
<rect x="110.55" y="128.05" width="5.5" height="5.5" fill="#000"/>
<rect x="118.55" y="133.05" width="5.5" height="5.5" fill="#000"/>
<rect x="126.55" y="137.55" width="5.5" height="5.5" fill="#000"/>
<rect x="134.55" y="142.05" width="5.5" height="5.5" fill="#000"/>
<rect x="142.55" y="146.45" width="5.5" height="5.5" fill="#000"/>
<rect x="150.55" y="151.15" width="5.5" height="5.5" fill="#000"/>
<rect x="158.55" y="155.05" width="5.5" height="5.5" fill="#000"/>
<rect x="166.55" y="159.45" width="5.5" height="5.5" fill="#000"/>
<rect x="174.55" y="163.65" width="5.5" height="5.5" fill="#000"/>
<rect x="182.55" y="167.55" width="5.5" height="5.5" fill="#000"/>
<rect x="190.55" y="170.95" width="5.5" height="5.5" fill="#000"/>
<rect x="198.55" y="174.75" width="5.5" height="5.5" fill="#000"/>
<rect x="206.55" y="178.75" width="5.5" height="5.5" fill="#000"/>
<rect x="214.55" y="182.25" width="5.5" height="5.5" fill="#000"/>
<rect x="222.55" y="185.25" width="5.5" height="5.5" fill="#000"/>
<rect x="230.55" y="188.75" width="5.5" height="5.5" fill="#000"/>
<rect x="238.55" y="192.25" width="5.5" height="5.5" fill="#000"/>
<rect x="246.55" y="195.85" width="5.5" height="5.5" fill="#000"/>
<rect x="254.55" y="199.05" width="5.5" height="5.5" fill="#000"/>
<rect x="262.55" y="203.15" width="5.5" height="5.5" fill="#000"/>
<rect x="274.55" y="208.05" width="5.5" height="5.5" fill="#000"/>
<rect x="290.55" y="215.25" width="5.5" height="5.5" fill="#000"/>
<rect x="306.55" y="223.85" width="5.5" height="5.5" fill="#000"/>
<rect x="322.55" y="230.85" width="5.5" height="5.5" fill="#000"/>
<rect x="338.55" y="239.25" width="5.5" height="5.5" fill="#000"/>
<rect x="354.55" y="241.45" width="5.5" height="5.5" fill="#000"/>
<path d="M65.30,96.06 L73.30,103.24 L81.30,109.92 L89.30,115.74 L97.30,120.41 L105.30,125.31 L113.30,129.65 L121.30,134.35 L129.30,138.60 L137.30,142.75 L145.30,147.80 L153.30,151.49 L161.30,156.83 L169.30,160.55 L177.30,164.50 L185.30,168.25 L193.30,172.65 L201.30,176.88 L209.30,182.22 L217.30,186.57 L225.30,189.65 L233.30,194.16 L241.30,198.46 L249.30,200.68 L257.30,206.83 L265.30,211.83 L277.30,219.73 L293.30,224.66 L309.30,240.50 L325.30,249.28 L341.30,258.04 L357.30,274.30" fill="none" stroke="#b8621c" stroke-width="1.1" stroke-dasharray="2.5 2"/>
<path d="M265.30,210.20V213.47" stroke="#b8621c" stroke-width="1"/>
<path d="M277.30,218.09V221.37" stroke="#b8621c" stroke-width="1"/>
<path d="M309.30,238.30V242.69" stroke="#b8621c" stroke-width="1"/>
<path d="M325.30,246.64V251.93" stroke="#b8621c" stroke-width="1"/>
<path d="M341.30,255.14V260.93" stroke="#b8621c" stroke-width="1"/>
<path d="M357.30,271.27V277.32" stroke="#b8621c" stroke-width="1"/>
<circle cx="65.30" cy="96.06" r="2.6" fill="none" stroke="#b8621c" stroke-width="1.1"/>
<circle cx="73.30" cy="103.24" r="2.6" fill="none" stroke="#b8621c" stroke-width="1.1"/>
<circle cx="81.30" cy="109.92" r="2.6" fill="none" stroke="#b8621c" stroke-width="1.1"/>
<circle cx="89.30" cy="115.74" r="2.6" fill="none" stroke="#b8621c" stroke-width="1.1"/>
<circle cx="97.30" cy="120.41" r="2.6" fill="none" stroke="#b8621c" stroke-width="1.1"/>
<circle cx="105.30" cy="125.31" r="2.6" fill="none" stroke="#b8621c" stroke-width="1.1"/>
<circle cx="113.30" cy="129.65" r="2.6" fill="none" stroke="#b8621c" stroke-width="1.1"/>
<circle cx="121.30" cy="134.35" r="2.6" fill="none" stroke="#b8621c" stroke-width="1.1"/>
<circle cx="129.30" cy="138.60" r="2.6" fill="none" stroke="#b8621c" stroke-width="1.1"/>
<circle cx="137.30" cy="142.75" r="2.6" fill="none" stroke="#b8621c" stroke-width="1.1"/>
<circle cx="145.30" cy="147.80" r="2.6" fill="none" stroke="#b8621c" stroke-width="1.1"/>
<circle cx="153.30" cy="151.49" r="2.6" fill="none" stroke="#b8621c" stroke-width="1.1"/>
<circle cx="161.30" cy="156.83" r="2.6" fill="none" stroke="#b8621c" stroke-width="1.1"/>
<circle cx="169.30" cy="160.55" r="2.6" fill="none" stroke="#b8621c" stroke-width="1.1"/>
<circle cx="177.30" cy="164.50" r="2.6" fill="none" stroke="#b8621c" stroke-width="1.1"/>
<circle cx="185.30" cy="168.25" r="2.6" fill="none" stroke="#b8621c" stroke-width="1.1"/>
<circle cx="193.30" cy="172.65" r="2.6" fill="none" stroke="#b8621c" stroke-width="1.1"/>
<circle cx="201.30" cy="176.88" r="2.6" fill="none" stroke="#b8621c" stroke-width="1.1"/>
<circle cx="209.30" cy="182.22" r="2.6" fill="none" stroke="#b8621c" stroke-width="1.1"/>
<circle cx="217.30" cy="186.57" r="2.6" fill="none" stroke="#b8621c" stroke-width="1.1"/>
<circle cx="225.30" cy="189.65" r="2.6" fill="none" stroke="#b8621c" stroke-width="1.1"/>
<circle cx="233.30" cy="194.16" r="2.6" fill="none" stroke="#b8621c" stroke-width="1.1"/>
<circle cx="241.30" cy="198.46" r="2.6" fill="none" stroke="#b8621c" stroke-width="1.1"/>
<circle cx="249.30" cy="200.68" r="2.6" fill="none" stroke="#b8621c" stroke-width="1.1"/>
<circle cx="257.30" cy="206.83" r="2.6" fill="none" stroke="#b8621c" stroke-width="1.1"/>
<circle cx="265.30" cy="211.83" r="2.6" fill="none" stroke="#b8621c" stroke-width="1.1"/>
<circle cx="277.30" cy="219.73" r="2.6" fill="none" stroke="#b8621c" stroke-width="1.1"/>
<circle cx="293.30" cy="224.66" r="2.6" fill="none" stroke="#b8621c" stroke-width="1.1"/>
<circle cx="309.30" cy="240.50" r="2.6" fill="none" stroke="#b8621c" stroke-width="1.1"/>
<circle cx="325.30" cy="249.28" r="2.6" fill="none" stroke="#b8621c" stroke-width="1.1"/>
<circle cx="341.30" cy="258.04" r="2.6" fill="none" stroke="#b8621c" stroke-width="1.1"/>
<circle cx="357.30" cy="274.30" r="2.6" fill="none" stroke="#b8621c" stroke-width="1.1"/>
<path d="M65.30,99.71 L73.30,104.82 L81.30,109.92 L89.30,114.96 L97.30,119.58 L105.30,124.57 L113.30,127.89 L121.30,132.41 L129.30,136.73 L137.30,141.06 L145.30,145.84 L153.30,150.13 L161.30,154.79 L169.30,159.34 L177.30,163.39 L185.30,168.25 L193.30,172.65 L201.30,176.88 L209.30,182.22 L217.30,186.85 L225.30,190.13 L233.30,193.63 L241.30,199.02 L249.30,203.07 L257.30,206.25 L265.30,212.14 L277.30,219.73 L293.30,228.82 L309.30,236.79 L325.30,243.92 L341.30,259.25 L357.30,263.36" fill="none" stroke="#30a018" stroke-width="1.1" stroke-dasharray="2.5 2"/>
<path d="M309.30,235.10V238.48" stroke="#30a018" stroke-width="1"/>
<path d="M325.30,242.00V245.83" stroke="#30a018" stroke-width="1"/>
<path d="M341.30,256.85V261.64" stroke="#30a018" stroke-width="1"/>
<path d="M357.30,260.46V266.26" stroke="#30a018" stroke-width="1"/>
<rect x="62.50" y="96.91" width="5.6" height="5.6" fill="none" stroke="#30a018" stroke-width="1.1"/>
<rect x="70.50" y="102.02" width="5.6" height="5.6" fill="none" stroke="#30a018" stroke-width="1.1"/>
<rect x="78.50" y="107.12" width="5.6" height="5.6" fill="none" stroke="#30a018" stroke-width="1.1"/>
<rect x="86.50" y="112.16" width="5.6" height="5.6" fill="none" stroke="#30a018" stroke-width="1.1"/>
<rect x="94.50" y="116.78" width="5.6" height="5.6" fill="none" stroke="#30a018" stroke-width="1.1"/>
<rect x="102.50" y="121.77" width="5.6" height="5.6" fill="none" stroke="#30a018" stroke-width="1.1"/>
<rect x="110.50" y="125.09" width="5.6" height="5.6" fill="none" stroke="#30a018" stroke-width="1.1"/>
<rect x="118.50" y="129.61" width="5.6" height="5.6" fill="none" stroke="#30a018" stroke-width="1.1"/>
<rect x="126.50" y="133.93" width="5.6" height="5.6" fill="none" stroke="#30a018" stroke-width="1.1"/>
<rect x="134.50" y="138.26" width="5.6" height="5.6" fill="none" stroke="#30a018" stroke-width="1.1"/>
<rect x="142.50" y="143.04" width="5.6" height="5.6" fill="none" stroke="#30a018" stroke-width="1.1"/>
<rect x="150.50" y="147.33" width="5.6" height="5.6" fill="none" stroke="#30a018" stroke-width="1.1"/>
<rect x="158.50" y="151.99" width="5.6" height="5.6" fill="none" stroke="#30a018" stroke-width="1.1"/>
<rect x="166.50" y="156.54" width="5.6" height="5.6" fill="none" stroke="#30a018" stroke-width="1.1"/>
<rect x="174.50" y="160.59" width="5.6" height="5.6" fill="none" stroke="#30a018" stroke-width="1.1"/>
<rect x="182.50" y="165.45" width="5.6" height="5.6" fill="none" stroke="#30a018" stroke-width="1.1"/>
<rect x="190.50" y="169.85" width="5.6" height="5.6" fill="none" stroke="#30a018" stroke-width="1.1"/>
<rect x="198.50" y="174.08" width="5.6" height="5.6" fill="none" stroke="#30a018" stroke-width="1.1"/>
<rect x="206.50" y="179.42" width="5.6" height="5.6" fill="none" stroke="#30a018" stroke-width="1.1"/>
<rect x="214.50" y="184.05" width="5.6" height="5.6" fill="none" stroke="#30a018" stroke-width="1.1"/>
<rect x="222.50" y="187.33" width="5.6" height="5.6" fill="none" stroke="#30a018" stroke-width="1.1"/>
<rect x="230.50" y="190.83" width="5.6" height="5.6" fill="none" stroke="#30a018" stroke-width="1.1"/>
<rect x="238.50" y="196.22" width="5.6" height="5.6" fill="none" stroke="#30a018" stroke-width="1.1"/>
<rect x="246.50" y="200.27" width="5.6" height="5.6" fill="none" stroke="#30a018" stroke-width="1.1"/>
<rect x="254.50" y="203.45" width="5.6" height="5.6" fill="none" stroke="#30a018" stroke-width="1.1"/>
<rect x="262.50" y="209.34" width="5.6" height="5.6" fill="none" stroke="#30a018" stroke-width="1.1"/>
<rect x="274.50" y="216.93" width="5.6" height="5.6" fill="none" stroke="#30a018" stroke-width="1.1"/>
<rect x="290.50" y="226.02" width="5.6" height="5.6" fill="none" stroke="#30a018" stroke-width="1.1"/>
<rect x="306.50" y="233.99" width="5.6" height="5.6" fill="none" stroke="#30a018" stroke-width="1.1"/>
<rect x="322.50" y="241.12" width="5.6" height="5.6" fill="none" stroke="#30a018" stroke-width="1.1"/>
<rect x="338.50" y="256.45" width="5.6" height="5.6" fill="none" stroke="#30a018" stroke-width="1.1"/>
<rect x="354.50" y="260.56" width="5.6" height="5.6" fill="none" stroke="#30a018" stroke-width="1.1"/>
<path d="M65.30,97.62 L73.30,103.56 L81.30,108.96 L89.30,114.05 L97.30,118.65 L105.30,123.74 L113.30,128.85 L121.30,132.79 L129.30,137.97 L137.30,142.44 L145.30,147.55 L153.30,152.80 L161.30,156.30 L169.30,161.78 L177.30,166.92 L185.30,170.77 L193.30,173.84 L201.30,179.86 L209.30,183.70 L217.30,187.43 L225.30,193.23 L233.30,195.92 L241.30,201.31 L249.30,205.57 L257.30,208.59 L265.30,214.40 L277.30,218.32 L293.30,226.00 L309.30,232.61 L325.30,239.51 L341.30,247.98 L357.30,249.86" fill="none" stroke="#0000ff" stroke-width="1.3"/>
<path d="M277.30,216.81V219.83" stroke="#0000ff" stroke-width="1"/>
<path d="M325.30,237.92V241.10" stroke="#0000ff" stroke-width="1"/>
<path d="M341.30,246.07V249.90" stroke="#0000ff" stroke-width="1"/>
<path d="M357.30,247.89V251.82" stroke="#0000ff" stroke-width="1"/>
<path d="M62.30,99.80L68.30,99.80L65.30,94.60Z" fill="#0000ff"/>
<path d="M70.30,105.75L76.30,105.75L73.30,100.55Z" fill="#0000ff"/>
<path d="M78.30,111.14L84.30,111.14L81.30,105.94Z" fill="#0000ff"/>
<path d="M86.30,116.24L92.30,116.24L89.30,111.04Z" fill="#0000ff"/>
<path d="M94.30,120.83L100.30,120.83L97.30,115.63Z" fill="#0000ff"/>
<path d="M102.30,125.93L108.30,125.93L105.30,120.73Z" fill="#0000ff"/>
<path d="M110.30,131.03L116.30,131.03L113.30,125.83Z" fill="#0000ff"/>
<path d="M118.30,134.97L124.30,134.97L121.30,129.77Z" fill="#0000ff"/>
<path d="M126.30,140.15L132.30,140.15L129.30,134.95Z" fill="#0000ff"/>
<path d="M134.30,144.63L140.30,144.63L137.30,139.43Z" fill="#0000ff"/>
<path d="M142.30,149.73L148.30,149.73L145.30,144.53Z" fill="#0000ff"/>
<path d="M150.30,154.99L156.30,154.99L153.30,149.79Z" fill="#0000ff"/>
<path d="M158.30,158.48L164.30,158.48L161.30,153.28Z" fill="#0000ff"/>
<path d="M166.30,163.97L172.30,163.97L169.30,158.77Z" fill="#0000ff"/>
<path d="M174.30,169.10L180.30,169.10L177.30,163.90Z" fill="#0000ff"/>
<path d="M182.30,172.95L188.30,172.95L185.30,167.75Z" fill="#0000ff"/>
<path d="M190.30,176.02L196.30,176.02L193.30,170.82Z" fill="#0000ff"/>
<path d="M198.30,182.04L204.30,182.04L201.30,176.84Z" fill="#0000ff"/>
<path d="M206.30,185.89L212.30,185.89L209.30,180.69Z" fill="#0000ff"/>
<path d="M214.30,189.62L220.30,189.62L217.30,184.42Z" fill="#0000ff"/>
<path d="M222.30,195.41L228.30,195.41L225.30,190.21Z" fill="#0000ff"/>
<path d="M230.30,198.11L236.30,198.11L233.30,192.91Z" fill="#0000ff"/>
<path d="M238.30,203.50L244.30,203.50L241.30,198.30Z" fill="#0000ff"/>
<path d="M246.30,207.75L252.30,207.75L249.30,202.55Z" fill="#0000ff"/>
<path d="M254.30,210.77L260.30,210.77L257.30,205.57Z" fill="#0000ff"/>
<path d="M262.30,216.59L268.30,216.59L265.30,211.39Z" fill="#0000ff"/>
<path d="M274.30,220.51L280.30,220.51L277.30,215.31Z" fill="#0000ff"/>
<path d="M290.30,228.18L296.30,228.18L293.30,222.98Z" fill="#0000ff"/>
<path d="M306.30,234.79L312.30,234.79L309.30,229.59Z" fill="#0000ff"/>
<path d="M322.30,241.69L328.30,241.69L325.30,236.49Z" fill="#0000ff"/>
<path d="M338.30,250.17L344.30,250.17L341.30,244.97Z" fill="#0000ff"/>
<path d="M354.30,252.04L360.30,252.04L357.30,246.84Z" fill="#0000ff"/>
<path d="M65.30,102.15 L73.30,108.00 L81.30,113.17 L89.30,118.44 L97.30,122.85 L105.30,127.52 L113.30,131.64 L121.30,135.28 L129.30,138.90 L137.30,143.07 L145.30,147.27 L153.30,150.84 L161.30,154.26 L169.30,157.30 L177.30,160.69 L185.30,164.87 L193.30,167.87 L201.30,170.84 L209.30,174.10 L217.30,178.34 L225.30,180.63 L233.30,184.38 L241.30,188.81 L249.30,191.38 L257.30,194.43 L265.30,198.33 L277.30,201.94 L293.30,211.64 L309.30,221.95 L325.30,225.52 L341.30,233.04 L357.30,216.09" fill="none" stroke="#ff0000" stroke-width="1.1" stroke-dasharray="1 1.4"/>
<path d="M357.30,214.58V217.61" stroke="#ff0000" stroke-width="1"/>
<path d="M65.30,98.75L68.00,102.15L65.30,105.55L62.60,102.15Z" fill="#ff0000"/>
<path d="M73.30,104.60L76.00,108.00L73.30,111.40L70.60,108.00Z" fill="#ff0000"/>
<path d="M81.30,109.77L84.00,113.17L81.30,116.57L78.60,113.17Z" fill="#ff0000"/>
<path d="M89.30,115.04L92.00,118.44L89.30,121.84L86.60,118.44Z" fill="#ff0000"/>
<path d="M97.30,119.45L100.00,122.85L97.30,126.25L94.60,122.85Z" fill="#ff0000"/>
<path d="M105.30,124.12L108.00,127.52L105.30,130.92L102.60,127.52Z" fill="#ff0000"/>
<path d="M113.30,128.24L116.00,131.64L113.30,135.04L110.60,131.64Z" fill="#ff0000"/>
<path d="M121.30,131.88L124.00,135.28L121.30,138.68L118.60,135.28Z" fill="#ff0000"/>
<path d="M129.30,135.50L132.00,138.90L129.30,142.30L126.60,138.90Z" fill="#ff0000"/>
<path d="M137.30,139.67L140.00,143.07L137.30,146.47L134.60,143.07Z" fill="#ff0000"/>
<path d="M145.30,143.87L148.00,147.27L145.30,150.67L142.60,147.27Z" fill="#ff0000"/>
<path d="M153.30,147.44L156.00,150.84L153.30,154.24L150.60,150.84Z" fill="#ff0000"/>
<path d="M161.30,150.86L164.00,154.26L161.30,157.66L158.60,154.26Z" fill="#ff0000"/>
<path d="M169.30,153.90L172.00,157.30L169.30,160.70L166.60,157.30Z" fill="#ff0000"/>
<path d="M177.30,157.29L180.00,160.69L177.30,164.09L174.60,160.69Z" fill="#ff0000"/>
<path d="M185.30,161.47L188.00,164.87L185.30,168.27L182.60,164.87Z" fill="#ff0000"/>
<path d="M193.30,164.47L196.00,167.87L193.30,171.27L190.60,167.87Z" fill="#ff0000"/>
<path d="M201.30,167.44L204.00,170.84L201.30,174.24L198.60,170.84Z" fill="#ff0000"/>
<path d="M209.30,170.70L212.00,174.10L209.30,177.50L206.60,174.10Z" fill="#ff0000"/>
<path d="M217.30,174.94L220.00,178.34L217.30,181.74L214.60,178.34Z" fill="#ff0000"/>
<path d="M225.30,177.23L228.00,180.63L225.30,184.03L222.60,180.63Z" fill="#ff0000"/>
<path d="M233.30,180.98L236.00,184.38L233.30,187.78L230.60,184.38Z" fill="#ff0000"/>
<path d="M241.30,185.41L244.00,188.81L241.30,192.21L238.60,188.81Z" fill="#ff0000"/>
<path d="M249.30,187.98L252.00,191.38L249.30,194.78L246.60,191.38Z" fill="#ff0000"/>
<path d="M257.30,191.03L260.00,194.43L257.30,197.83L254.60,194.43Z" fill="#ff0000"/>
<path d="M265.30,194.93L268.00,198.33L265.30,201.73L262.60,198.33Z" fill="#ff0000"/>
<path d="M277.30,198.54L280.00,201.94L277.30,205.34L274.60,201.94Z" fill="#ff0000"/>
<path d="M293.30,208.24L296.00,211.64L293.30,215.04L290.60,211.64Z" fill="#ff0000"/>
<path d="M309.30,218.55L312.00,221.95L309.30,225.35L306.60,221.95Z" fill="#ff0000"/>
<path d="M325.30,222.12L328.00,225.52L325.30,228.92L322.60,225.52Z" fill="#ff0000"/>
<path d="M341.30,229.64L344.00,233.04L341.30,236.44L338.60,233.04Z" fill="#ff0000"/>
<path d="M357.30,212.69L360.00,216.09L357.30,219.49L354.60,216.09Z" fill="#ff0000"/>
</g>
<path d="M45.5,16.8V478.35" stroke="#000" stroke-width="1.1"/>
<path d="M371.3,16.8V478.35" stroke="#000" stroke-width="1.4"/>
<path d="M44.8,17.5H372.0" stroke="#000" stroke-width="1.3"/>
<path d="M44.8,317.4H372.0M44.8,477.6H372.0" stroke="#000" stroke-width="1.6"/>
<line x1="45.50" y1="310.62" x2="51.50" y2="310.62" stroke="#000" stroke-width="1.0"/>
<line x1="371.30" y1="310.62" x2="365.30" y2="310.62" stroke="#000" stroke-width="1.0"/>
<line x1="45.50" y1="304.28" x2="51.50" y2="304.28" stroke="#000" stroke-width="1.0"/>
<line x1="371.30" y1="304.28" x2="365.30" y2="304.28" stroke="#000" stroke-width="1.0"/>
<line x1="45.50" y1="299.37" x2="51.50" y2="299.37" stroke="#000" stroke-width="1.0"/>
<line x1="371.30" y1="299.37" x2="365.30" y2="299.37" stroke="#000" stroke-width="1.0"/>
<line x1="45.50" y1="295.35" x2="51.50" y2="295.35" stroke="#000" stroke-width="1.0"/>
<line x1="371.30" y1="295.35" x2="365.30" y2="295.35" stroke="#000" stroke-width="1.0"/>
<line x1="45.50" y1="291.96" x2="51.50" y2="291.96" stroke="#000" stroke-width="1.0"/>
<line x1="371.30" y1="291.96" x2="365.30" y2="291.96" stroke="#000" stroke-width="1.0"/>
<line x1="45.50" y1="289.02" x2="51.50" y2="289.02" stroke="#000" stroke-width="1.0"/>
<line x1="371.30" y1="289.02" x2="365.30" y2="289.02" stroke="#000" stroke-width="1.0"/>
<line x1="45.50" y1="286.42" x2="51.50" y2="286.42" stroke="#000" stroke-width="1.0"/>
<line x1="371.30" y1="286.42" x2="365.30" y2="286.42" stroke="#000" stroke-width="1.0"/>
<line x1="45.50" y1="284.10" x2="56.50" y2="284.10" stroke="#000" stroke-width="1.0"/>
<line x1="371.30" y1="284.10" x2="360.30" y2="284.10" stroke="#000" stroke-width="1.0"/>
<line x1="45.50" y1="268.83" x2="51.50" y2="268.83" stroke="#000" stroke-width="1.0"/>
<line x1="371.30" y1="268.83" x2="365.30" y2="268.83" stroke="#000" stroke-width="1.0"/>
<line x1="45.50" y1="259.90" x2="51.50" y2="259.90" stroke="#000" stroke-width="1.0"/>
<line x1="371.30" y1="259.90" x2="365.30" y2="259.90" stroke="#000" stroke-width="1.0"/>
<line x1="45.50" y1="253.56" x2="51.50" y2="253.56" stroke="#000" stroke-width="1.0"/>
<line x1="371.30" y1="253.56" x2="365.30" y2="253.56" stroke="#000" stroke-width="1.0"/>
<line x1="45.50" y1="248.65" x2="51.50" y2="248.65" stroke="#000" stroke-width="1.0"/>
<line x1="371.30" y1="248.65" x2="365.30" y2="248.65" stroke="#000" stroke-width="1.0"/>
<line x1="45.50" y1="244.63" x2="51.50" y2="244.63" stroke="#000" stroke-width="1.0"/>
<line x1="371.30" y1="244.63" x2="365.30" y2="244.63" stroke="#000" stroke-width="1.0"/>
<line x1="45.50" y1="241.24" x2="51.50" y2="241.24" stroke="#000" stroke-width="1.0"/>
<line x1="371.30" y1="241.24" x2="365.30" y2="241.24" stroke="#000" stroke-width="1.0"/>
<line x1="45.50" y1="238.30" x2="51.50" y2="238.30" stroke="#000" stroke-width="1.0"/>
<line x1="371.30" y1="238.30" x2="365.30" y2="238.30" stroke="#000" stroke-width="1.0"/>
<line x1="45.50" y1="235.70" x2="51.50" y2="235.70" stroke="#000" stroke-width="1.0"/>
<line x1="371.30" y1="235.70" x2="365.30" y2="235.70" stroke="#000" stroke-width="1.0"/>
<line x1="45.50" y1="233.38" x2="56.50" y2="233.38" stroke="#000" stroke-width="1.0"/>
<line x1="371.30" y1="233.38" x2="360.30" y2="233.38" stroke="#000" stroke-width="1.0"/>
<line x1="45.50" y1="218.11" x2="51.50" y2="218.11" stroke="#000" stroke-width="1.0"/>
<line x1="371.30" y1="218.11" x2="365.30" y2="218.11" stroke="#000" stroke-width="1.0"/>
<line x1="45.50" y1="209.18" x2="51.50" y2="209.18" stroke="#000" stroke-width="1.0"/>
<line x1="371.30" y1="209.18" x2="365.30" y2="209.18" stroke="#000" stroke-width="1.0"/>
<line x1="45.50" y1="202.84" x2="51.50" y2="202.84" stroke="#000" stroke-width="1.0"/>
<line x1="371.30" y1="202.84" x2="365.30" y2="202.84" stroke="#000" stroke-width="1.0"/>
<line x1="45.50" y1="197.93" x2="51.50" y2="197.93" stroke="#000" stroke-width="1.0"/>
<line x1="371.30" y1="197.93" x2="365.30" y2="197.93" stroke="#000" stroke-width="1.0"/>
<line x1="45.50" y1="193.91" x2="51.50" y2="193.91" stroke="#000" stroke-width="1.0"/>
<line x1="371.30" y1="193.91" x2="365.30" y2="193.91" stroke="#000" stroke-width="1.0"/>
<line x1="45.50" y1="190.52" x2="51.50" y2="190.52" stroke="#000" stroke-width="1.0"/>
<line x1="371.30" y1="190.52" x2="365.30" y2="190.52" stroke="#000" stroke-width="1.0"/>
<line x1="45.50" y1="187.58" x2="51.50" y2="187.58" stroke="#000" stroke-width="1.0"/>
<line x1="371.30" y1="187.58" x2="365.30" y2="187.58" stroke="#000" stroke-width="1.0"/>
<line x1="45.50" y1="184.98" x2="51.50" y2="184.98" stroke="#000" stroke-width="1.0"/>
<line x1="371.30" y1="184.98" x2="365.30" y2="184.98" stroke="#000" stroke-width="1.0"/>
<line x1="45.50" y1="182.66" x2="56.50" y2="182.66" stroke="#000" stroke-width="1.0"/>
<line x1="371.30" y1="182.66" x2="360.30" y2="182.66" stroke="#000" stroke-width="1.0"/>
<line x1="45.50" y1="167.39" x2="51.50" y2="167.39" stroke="#000" stroke-width="1.0"/>
<line x1="371.30" y1="167.39" x2="365.30" y2="167.39" stroke="#000" stroke-width="1.0"/>
<line x1="45.50" y1="158.46" x2="51.50" y2="158.46" stroke="#000" stroke-width="1.0"/>
<line x1="371.30" y1="158.46" x2="365.30" y2="158.46" stroke="#000" stroke-width="1.0"/>
<line x1="45.50" y1="152.12" x2="51.50" y2="152.12" stroke="#000" stroke-width="1.0"/>
<line x1="371.30" y1="152.12" x2="365.30" y2="152.12" stroke="#000" stroke-width="1.0"/>
<line x1="45.50" y1="147.21" x2="51.50" y2="147.21" stroke="#000" stroke-width="1.0"/>
<line x1="371.30" y1="147.21" x2="365.30" y2="147.21" stroke="#000" stroke-width="1.0"/>
<line x1="45.50" y1="143.19" x2="51.50" y2="143.19" stroke="#000" stroke-width="1.0"/>
<line x1="371.30" y1="143.19" x2="365.30" y2="143.19" stroke="#000" stroke-width="1.0"/>
<line x1="45.50" y1="139.80" x2="51.50" y2="139.80" stroke="#000" stroke-width="1.0"/>
<line x1="371.30" y1="139.80" x2="365.30" y2="139.80" stroke="#000" stroke-width="1.0"/>
<line x1="45.50" y1="136.86" x2="51.50" y2="136.86" stroke="#000" stroke-width="1.0"/>
<line x1="371.30" y1="136.86" x2="365.30" y2="136.86" stroke="#000" stroke-width="1.0"/>
<line x1="45.50" y1="134.26" x2="51.50" y2="134.26" stroke="#000" stroke-width="1.0"/>
<line x1="371.30" y1="134.26" x2="365.30" y2="134.26" stroke="#000" stroke-width="1.0"/>
<line x1="45.50" y1="131.94" x2="56.50" y2="131.94" stroke="#000" stroke-width="1.0"/>
<line x1="371.30" y1="131.94" x2="360.30" y2="131.94" stroke="#000" stroke-width="1.0"/>
<line x1="45.50" y1="116.67" x2="51.50" y2="116.67" stroke="#000" stroke-width="1.0"/>
<line x1="371.30" y1="116.67" x2="365.30" y2="116.67" stroke="#000" stroke-width="1.0"/>
<line x1="45.50" y1="107.74" x2="51.50" y2="107.74" stroke="#000" stroke-width="1.0"/>
<line x1="371.30" y1="107.74" x2="365.30" y2="107.74" stroke="#000" stroke-width="1.0"/>
<line x1="45.50" y1="101.40" x2="51.50" y2="101.40" stroke="#000" stroke-width="1.0"/>
<line x1="371.30" y1="101.40" x2="365.30" y2="101.40" stroke="#000" stroke-width="1.0"/>
<line x1="45.50" y1="96.49" x2="51.50" y2="96.49" stroke="#000" stroke-width="1.0"/>
<line x1="371.30" y1="96.49" x2="365.30" y2="96.49" stroke="#000" stroke-width="1.0"/>
<line x1="45.50" y1="92.47" x2="51.50" y2="92.47" stroke="#000" stroke-width="1.0"/>
<line x1="371.30" y1="92.47" x2="365.30" y2="92.47" stroke="#000" stroke-width="1.0"/>
<line x1="45.50" y1="89.08" x2="51.50" y2="89.08" stroke="#000" stroke-width="1.0"/>
<line x1="371.30" y1="89.08" x2="365.30" y2="89.08" stroke="#000" stroke-width="1.0"/>
<line x1="45.50" y1="86.14" x2="51.50" y2="86.14" stroke="#000" stroke-width="1.0"/>
<line x1="371.30" y1="86.14" x2="365.30" y2="86.14" stroke="#000" stroke-width="1.0"/>
<line x1="45.50" y1="83.54" x2="51.50" y2="83.54" stroke="#000" stroke-width="1.0"/>
<line x1="371.30" y1="83.54" x2="365.30" y2="83.54" stroke="#000" stroke-width="1.0"/>
<line x1="45.50" y1="81.22" x2="56.50" y2="81.22" stroke="#000" stroke-width="1.0"/>
<line x1="371.30" y1="81.22" x2="360.30" y2="81.22" stroke="#000" stroke-width="1.0"/>
<line x1="45.50" y1="65.95" x2="51.50" y2="65.95" stroke="#000" stroke-width="1.0"/>
<line x1="371.30" y1="65.95" x2="365.30" y2="65.95" stroke="#000" stroke-width="1.0"/>
<line x1="45.50" y1="57.02" x2="51.50" y2="57.02" stroke="#000" stroke-width="1.0"/>
<line x1="371.30" y1="57.02" x2="365.30" y2="57.02" stroke="#000" stroke-width="1.0"/>
<line x1="45.50" y1="50.68" x2="51.50" y2="50.68" stroke="#000" stroke-width="1.0"/>
<line x1="371.30" y1="50.68" x2="365.30" y2="50.68" stroke="#000" stroke-width="1.0"/>
<line x1="45.50" y1="45.77" x2="51.50" y2="45.77" stroke="#000" stroke-width="1.0"/>
<line x1="371.30" y1="45.77" x2="365.30" y2="45.77" stroke="#000" stroke-width="1.0"/>
<line x1="45.50" y1="41.75" x2="51.50" y2="41.75" stroke="#000" stroke-width="1.0"/>
<line x1="371.30" y1="41.75" x2="365.30" y2="41.75" stroke="#000" stroke-width="1.0"/>
<line x1="45.50" y1="38.36" x2="51.50" y2="38.36" stroke="#000" stroke-width="1.0"/>
<line x1="371.30" y1="38.36" x2="365.30" y2="38.36" stroke="#000" stroke-width="1.0"/>
<line x1="45.50" y1="35.42" x2="51.50" y2="35.42" stroke="#000" stroke-width="1.0"/>
<line x1="371.30" y1="35.42" x2="365.30" y2="35.42" stroke="#000" stroke-width="1.0"/>
<line x1="45.50" y1="32.82" x2="51.50" y2="32.82" stroke="#000" stroke-width="1.0"/>
<line x1="371.30" y1="32.82" x2="365.30" y2="32.82" stroke="#000" stroke-width="1.0"/>
<line x1="45.50" y1="30.50" x2="56.50" y2="30.50" stroke="#000" stroke-width="1.0"/>
<line x1="371.30" y1="30.50" x2="360.30" y2="30.50" stroke="#000" stroke-width="1.0"/>
<line x1="61.30" y1="17.50" x2="61.30" y2="19.50" stroke="#000" stroke-width="1.0"/>
<line x1="61.30" y1="317.50" x2="61.30" y2="315.50" stroke="#000" stroke-width="1.0"/>
<line x1="61.30" y1="317.50" x2="61.30" y2="318.80" stroke="#000" stroke-width="1.0"/>
<line x1="61.30" y1="477.50" x2="61.30" y2="476.20" stroke="#000" stroke-width="1.0"/>
<line x1="77.30" y1="17.50" x2="77.30" y2="21.50" stroke="#000" stroke-width="1.0"/>
<line x1="77.30" y1="317.50" x2="77.30" y2="313.50" stroke="#000" stroke-width="1.0"/>
<line x1="77.30" y1="317.50" x2="77.30" y2="320.00" stroke="#000" stroke-width="1.0"/>
<line x1="77.30" y1="477.50" x2="77.30" y2="475.00" stroke="#000" stroke-width="1.0"/>
<line x1="93.30" y1="17.50" x2="93.30" y2="19.50" stroke="#000" stroke-width="1.0"/>
<line x1="93.30" y1="317.50" x2="93.30" y2="315.50" stroke="#000" stroke-width="1.0"/>
<line x1="93.30" y1="317.50" x2="93.30" y2="318.80" stroke="#000" stroke-width="1.0"/>
<line x1="93.30" y1="477.50" x2="93.30" y2="476.20" stroke="#000" stroke-width="1.0"/>
<line x1="109.30" y1="17.50" x2="109.30" y2="21.50" stroke="#000" stroke-width="1.0"/>
<line x1="109.30" y1="317.50" x2="109.30" y2="313.50" stroke="#000" stroke-width="1.0"/>
<line x1="109.30" y1="317.50" x2="109.30" y2="320.00" stroke="#000" stroke-width="1.0"/>
<line x1="109.30" y1="477.50" x2="109.30" y2="475.00" stroke="#000" stroke-width="1.0"/>
<line x1="125.30" y1="17.50" x2="125.30" y2="19.50" stroke="#000" stroke-width="1.0"/>
<line x1="125.30" y1="317.50" x2="125.30" y2="315.50" stroke="#000" stroke-width="1.0"/>
<line x1="125.30" y1="317.50" x2="125.30" y2="318.80" stroke="#000" stroke-width="1.0"/>
<line x1="125.30" y1="477.50" x2="125.30" y2="476.20" stroke="#000" stroke-width="1.0"/>
<line x1="141.30" y1="17.50" x2="141.30" y2="21.50" stroke="#000" stroke-width="1.0"/>
<line x1="141.30" y1="317.50" x2="141.30" y2="313.50" stroke="#000" stroke-width="1.0"/>
<line x1="141.30" y1="317.50" x2="141.30" y2="320.00" stroke="#000" stroke-width="1.0"/>
<line x1="141.30" y1="477.50" x2="141.30" y2="475.00" stroke="#000" stroke-width="1.0"/>
<line x1="157.30" y1="17.50" x2="157.30" y2="19.50" stroke="#000" stroke-width="1.0"/>
<line x1="157.30" y1="317.50" x2="157.30" y2="315.50" stroke="#000" stroke-width="1.0"/>
<line x1="157.30" y1="317.50" x2="157.30" y2="318.80" stroke="#000" stroke-width="1.0"/>
<line x1="157.30" y1="477.50" x2="157.30" y2="476.20" stroke="#000" stroke-width="1.0"/>
<line x1="173.30" y1="17.50" x2="173.30" y2="21.50" stroke="#000" stroke-width="1.0"/>
<line x1="173.30" y1="317.50" x2="173.30" y2="313.50" stroke="#000" stroke-width="1.0"/>
<line x1="173.30" y1="317.50" x2="173.30" y2="320.00" stroke="#000" stroke-width="1.0"/>
<line x1="173.30" y1="477.50" x2="173.30" y2="475.00" stroke="#000" stroke-width="1.0"/>
<line x1="189.30" y1="17.50" x2="189.30" y2="19.50" stroke="#000" stroke-width="1.0"/>
<line x1="189.30" y1="317.50" x2="189.30" y2="315.50" stroke="#000" stroke-width="1.0"/>
<line x1="189.30" y1="317.50" x2="189.30" y2="318.80" stroke="#000" stroke-width="1.0"/>
<line x1="189.30" y1="477.50" x2="189.30" y2="476.20" stroke="#000" stroke-width="1.0"/>
<line x1="205.30" y1="17.50" x2="205.30" y2="25.50" stroke="#000" stroke-width="1.0"/>
<line x1="205.30" y1="317.50" x2="205.30" y2="309.50" stroke="#000" stroke-width="1.0"/>
<line x1="205.30" y1="317.50" x2="205.30" y2="322.00" stroke="#000" stroke-width="1.0"/>
<line x1="205.30" y1="477.50" x2="205.30" y2="473.00" stroke="#000" stroke-width="1.0"/>
<line x1="221.30" y1="17.50" x2="221.30" y2="19.50" stroke="#000" stroke-width="1.0"/>
<line x1="221.30" y1="317.50" x2="221.30" y2="315.50" stroke="#000" stroke-width="1.0"/>
<line x1="221.30" y1="317.50" x2="221.30" y2="318.80" stroke="#000" stroke-width="1.0"/>
<line x1="221.30" y1="477.50" x2="221.30" y2="476.20" stroke="#000" stroke-width="1.0"/>
<line x1="237.30" y1="17.50" x2="237.30" y2="21.50" stroke="#000" stroke-width="1.0"/>
<line x1="237.30" y1="317.50" x2="237.30" y2="313.50" stroke="#000" stroke-width="1.0"/>
<line x1="237.30" y1="317.50" x2="237.30" y2="320.00" stroke="#000" stroke-width="1.0"/>
<line x1="237.30" y1="477.50" x2="237.30" y2="475.00" stroke="#000" stroke-width="1.0"/>
<line x1="253.30" y1="17.50" x2="253.30" y2="19.50" stroke="#000" stroke-width="1.0"/>
<line x1="253.30" y1="317.50" x2="253.30" y2="315.50" stroke="#000" stroke-width="1.0"/>
<line x1="253.30" y1="317.50" x2="253.30" y2="318.80" stroke="#000" stroke-width="1.0"/>
<line x1="253.30" y1="477.50" x2="253.30" y2="476.20" stroke="#000" stroke-width="1.0"/>
<line x1="269.30" y1="17.50" x2="269.30" y2="21.50" stroke="#000" stroke-width="1.0"/>
<line x1="269.30" y1="317.50" x2="269.30" y2="313.50" stroke="#000" stroke-width="1.0"/>
<line x1="269.30" y1="317.50" x2="269.30" y2="320.00" stroke="#000" stroke-width="1.0"/>
<line x1="269.30" y1="477.50" x2="269.30" y2="475.00" stroke="#000" stroke-width="1.0"/>
<line x1="285.30" y1="17.50" x2="285.30" y2="19.50" stroke="#000" stroke-width="1.0"/>
<line x1="285.30" y1="317.50" x2="285.30" y2="315.50" stroke="#000" stroke-width="1.0"/>
<line x1="285.30" y1="317.50" x2="285.30" y2="318.80" stroke="#000" stroke-width="1.0"/>
<line x1="285.30" y1="477.50" x2="285.30" y2="476.20" stroke="#000" stroke-width="1.0"/>
<line x1="301.30" y1="17.50" x2="301.30" y2="21.50" stroke="#000" stroke-width="1.0"/>
<line x1="301.30" y1="317.50" x2="301.30" y2="313.50" stroke="#000" stroke-width="1.0"/>
<line x1="301.30" y1="317.50" x2="301.30" y2="320.00" stroke="#000" stroke-width="1.0"/>
<line x1="301.30" y1="477.50" x2="301.30" y2="475.00" stroke="#000" stroke-width="1.0"/>
<line x1="317.30" y1="17.50" x2="317.30" y2="19.50" stroke="#000" stroke-width="1.0"/>
<line x1="317.30" y1="317.50" x2="317.30" y2="315.50" stroke="#000" stroke-width="1.0"/>
<line x1="317.30" y1="317.50" x2="317.30" y2="318.80" stroke="#000" stroke-width="1.0"/>
<line x1="317.30" y1="477.50" x2="317.30" y2="476.20" stroke="#000" stroke-width="1.0"/>
<line x1="333.30" y1="17.50" x2="333.30" y2="21.50" stroke="#000" stroke-width="1.0"/>
<line x1="333.30" y1="317.50" x2="333.30" y2="313.50" stroke="#000" stroke-width="1.0"/>
<line x1="333.30" y1="317.50" x2="333.30" y2="320.00" stroke="#000" stroke-width="1.0"/>
<line x1="333.30" y1="477.50" x2="333.30" y2="475.00" stroke="#000" stroke-width="1.0"/>
<line x1="349.30" y1="17.50" x2="349.30" y2="19.50" stroke="#000" stroke-width="1.0"/>
<line x1="349.30" y1="317.50" x2="349.30" y2="315.50" stroke="#000" stroke-width="1.0"/>
<line x1="349.30" y1="317.50" x2="349.30" y2="318.80" stroke="#000" stroke-width="1.0"/>
<line x1="349.30" y1="477.50" x2="349.30" y2="476.20" stroke="#000" stroke-width="1.0"/>
<line x1="365.30" y1="17.50" x2="365.30" y2="25.50" stroke="#000" stroke-width="1.0"/>
<line x1="365.30" y1="317.50" x2="365.30" y2="309.50" stroke="#000" stroke-width="1.0"/>
<line x1="365.30" y1="317.50" x2="365.30" y2="322.00" stroke="#000" stroke-width="1.0"/>
<line x1="365.30" y1="477.50" x2="365.30" y2="473.00" stroke="#000" stroke-width="1.0"/>
<line x1="45.50" y1="458.15" x2="52.50" y2="458.15" stroke="#000" stroke-width="1.0"/>
<line x1="371.30" y1="458.15" x2="365.30" y2="458.15" stroke="#000" stroke-width="1.0"/>
<line x1="45.50" y1="442.21" x2="51.00" y2="442.21" stroke="#000" stroke-width="1.0"/>
<line x1="371.30" y1="442.21" x2="366.80" y2="442.21" stroke="#000" stroke-width="1.0"/>
<line x1="45.50" y1="428.73" x2="51.00" y2="428.73" stroke="#000" stroke-width="1.0"/>
<line x1="371.30" y1="428.73" x2="366.80" y2="428.73" stroke="#000" stroke-width="1.0"/>
<line x1="45.50" y1="417.06" x2="51.00" y2="417.06" stroke="#000" stroke-width="1.0"/>
<line x1="371.30" y1="417.06" x2="366.80" y2="417.06" stroke="#000" stroke-width="1.0"/>
<line x1="45.50" y1="406.76" x2="51.00" y2="406.76" stroke="#000" stroke-width="1.0"/>
<line x1="371.30" y1="406.76" x2="366.80" y2="406.76" stroke="#000" stroke-width="1.0"/>
<line x1="45.50" y1="397.55" x2="52.50" y2="397.55" stroke="#000" stroke-width="1.0"/>
<line x1="371.30" y1="397.55" x2="365.30" y2="397.55" stroke="#000" stroke-width="1.0"/>
<line x1="45.50" y1="389.22" x2="51.00" y2="389.22" stroke="#000" stroke-width="1.0"/>
<line x1="371.30" y1="389.22" x2="366.80" y2="389.22" stroke="#000" stroke-width="1.0"/>
<line x1="45.50" y1="381.61" x2="51.00" y2="381.61" stroke="#000" stroke-width="1.0"/>
<line x1="371.30" y1="381.61" x2="366.80" y2="381.61" stroke="#000" stroke-width="1.0"/>
<line x1="45.50" y1="374.61" x2="51.00" y2="374.61" stroke="#000" stroke-width="1.0"/>
<line x1="371.30" y1="374.61" x2="366.80" y2="374.61" stroke="#000" stroke-width="1.0"/>
<line x1="45.50" y1="368.13" x2="51.00" y2="368.13" stroke="#000" stroke-width="1.0"/>
<line x1="371.30" y1="368.13" x2="366.80" y2="368.13" stroke="#000" stroke-width="1.0"/>
<line x1="45.50" y1="362.10" x2="52.50" y2="362.10" stroke="#000" stroke-width="1.0"/>
<line x1="371.30" y1="362.10" x2="365.30" y2="362.10" stroke="#000" stroke-width="1.0"/>
<line x1="45.50" y1="356.46" x2="51.00" y2="356.46" stroke="#000" stroke-width="1.0"/>
<line x1="371.30" y1="356.46" x2="366.80" y2="356.46" stroke="#000" stroke-width="1.0"/>
<line x1="45.50" y1="351.16" x2="51.00" y2="351.16" stroke="#000" stroke-width="1.0"/>
<line x1="371.30" y1="351.16" x2="366.80" y2="351.16" stroke="#000" stroke-width="1.0"/>
<line x1="45.50" y1="346.16" x2="51.00" y2="346.16" stroke="#000" stroke-width="1.0"/>
<line x1="371.30" y1="346.16" x2="366.80" y2="346.16" stroke="#000" stroke-width="1.0"/>
<line x1="45.50" y1="341.44" x2="51.00" y2="341.44" stroke="#000" stroke-width="1.0"/>
<line x1="371.30" y1="341.44" x2="366.80" y2="341.44" stroke="#000" stroke-width="1.0"/>
<line x1="45.50" y1="336.95" x2="52.50" y2="336.95" stroke="#000" stroke-width="1.0"/>
<line x1="371.30" y1="336.95" x2="365.30" y2="336.95" stroke="#000" stroke-width="1.0"/>
<line x1="45.50" y1="332.69" x2="51.00" y2="332.69" stroke="#000" stroke-width="1.0"/>
<line x1="371.30" y1="332.69" x2="366.80" y2="332.69" stroke="#000" stroke-width="1.0"/>
<line x1="45.50" y1="328.62" x2="51.00" y2="328.62" stroke="#000" stroke-width="1.0"/>
<line x1="371.30" y1="328.62" x2="366.80" y2="328.62" stroke="#000" stroke-width="1.0"/>
<line x1="45.50" y1="324.73" x2="51.00" y2="324.73" stroke="#000" stroke-width="1.0"/>
<line x1="371.30" y1="324.73" x2="366.80" y2="324.73" stroke="#000" stroke-width="1.0"/>
<line x1="45.50" y1="321.01" x2="51.00" y2="321.01" stroke="#000" stroke-width="1.0"/>
<line x1="371.30" y1="321.01" x2="366.80" y2="321.01" stroke="#000" stroke-width="1.0"/>
<text x="51.3" y="14.0" font-size="12" font-family="Liberation Sans, sans-serif" fill="#000" text-anchor="start" textLength="72" lengthAdjust="spacingAndGlyphs" >7000 GeV pp</text>
<text x="366.8" y="13.6" font-size="12" font-family="Liberation Sans, sans-serif" fill="#000" text-anchor="end" textLength="51.8" lengthAdjust="spacingAndGlyphs" >Soft QCD</text>
<text x="129.7" y="42.9" font-size="12.2" font-family="Liberation Sans, sans-serif" fill="#000" text-anchor="start" textLength="113.2" lengthAdjust="spacingAndGlyphs" >Momentum fraction z</text>
<text x="242.2" y="42.8" font-size="10.2" font-family="Liberation Sans, sans-serif" fill="#000" text-anchor="start" textLength="45.8" lengthAdjust="spacingAndGlyphs" >(track jets)</text>
<text x="23.4" y="35.9" font-size="11" font-family="Liberation Sans, sans-serif" fill="#000" text-anchor="start" textLength="12.3" lengthAdjust="spacingAndGlyphs" >10</text>
<text x="34.6" y="31.0" font-size="7.8" font-family="Liberation Sans, sans-serif" fill="#000" text-anchor="start" >3</text>
<text x="23.2" y="86.62" font-size="11" font-family="Liberation Sans, sans-serif" fill="#000" text-anchor="start" textLength="11.8" lengthAdjust="spacingAndGlyphs" >10</text>
<text x="34.7" y="81.82" font-size="7.8" font-family="Liberation Sans, sans-serif" fill="#000" text-anchor="start" >2</text>
<text x="40.6" y="135.94" font-size="11" font-family="Liberation Sans, sans-serif" fill="#000" text-anchor="end" >10</text>
<path d="M38.60,186.80V179.40L36.20,180.80" fill="none" stroke="#000" stroke-width="1.2" stroke-linejoin="bevel"/>
<text x="21.3" y="238.88" font-size="11" font-family="Liberation Sans, sans-serif" fill="#000" text-anchor="start" textLength="12.0" lengthAdjust="spacingAndGlyphs" >10</text>
<path d="M33.2,233.08H36.9" stroke="#000" stroke-width="0.9"/>
<text x="37.0" y="233.57999999999998" font-size="7.8" font-family="Liberation Sans, sans-serif" fill="#000" text-anchor="start" >1</text>
<text x="19.5" y="288.8" font-size="11" font-family="Liberation Sans, sans-serif" fill="#000" text-anchor="start" textLength="12.3" lengthAdjust="spacingAndGlyphs" >10</text>
<path d="M31.3,283.30H34.6" stroke="#000" stroke-width="0.9"/>
<text x="34.7" y="284.70000000000005" font-size="7.8" font-family="Liberation Sans, sans-serif" fill="#000" text-anchor="start" >2</text>
<text x="39.4" y="341.1526618728406" font-size="11.5" font-family="Liberation Sans, sans-serif" fill="#000" text-anchor="end" >2</text>
<path d="M36.70,401.80V394.40L34.30,395.80" fill="none" stroke="#000" stroke-width="1.2" stroke-linejoin="bevel"/>
<text x="21.5" y="462.3473381271594" font-size="11.5" font-family="Liberation Sans, sans-serif" fill="#000" text-anchor="start" textLength="16.8" lengthAdjust="spacingAndGlyphs" >0.5</text>
<text x="373.3" y="341.1526618728406" font-size="11.5" font-family="Liberation Sans, sans-serif" fill="#000" text-anchor="start" >2</text>
<path d="M377.40,402.80V394.90L375.00,396.30" fill="none" stroke="#000" stroke-width="1.2" stroke-linejoin="bevel"/>
<text x="373.3" y="462.3473381271594" font-size="11.5" font-family="Liberation Sans, sans-serif" fill="#000" text-anchor="start" textLength="16.8" lengthAdjust="spacingAndGlyphs" >0.5</text>
<text x="45.599999999999994" y="489.6" font-size="11.5" font-family="Liberation Sans, sans-serif" fill="#000" text-anchor="middle" >0</text>
<text x="196.3" y="489.6" font-size="11.5" font-family="Liberation Sans, sans-serif" fill="#000" text-anchor="start" textLength="16.8" lengthAdjust="spacingAndGlyphs" >0.5</text>
<path d="M366.60,488.80V481.10L364.20,482.50" fill="none" stroke="#000" stroke-width="1.2" stroke-linejoin="bevel"/>
<text x="373.0" y="503.7" font-size="12.4" font-family="Liberation Sans, sans-serif" fill="#000" text-anchor="end" textLength="102.8" lengthAdjust="spacingAndGlyphs" >Charged Particle z</text>
<g transform="translate(15.7,88) rotate(-90)"><text x="0" y="0" font-size="12" font-family="Liberation Sans, sans-serif" fill="#000" text-anchor="start" textLength="70.7" lengthAdjust="spacingAndGlyphs" >(1/Njet)dN/dz</text></g>
<g transform="translate(17.8,426.7) rotate(-90)"><text x="0" y="0" font-size="9.3" font-family="Liberation Sans, sans-serif" fill="#000" text-anchor="start" textLength="60.2" lengthAdjust="spacingAndGlyphs" >Ratio to ATLAS</text></g>
<g transform="translate(379.5,132.4) rotate(-90)"><text x="0" y="0" font-size="9.5" font-family="Liberation Sans, sans-serif" fill="#707070" text-anchor="start" textLength="115" lengthAdjust="spacingAndGlyphs" >Rivet 3.1.10, &#8805; 2.5M events</text></g>
<g transform="translate(380.5,314.3) rotate(-90)"><text x="0" y="0" font-size="9.6" font-family="Liberation Sans, sans-serif" fill="#707070" text-anchor="start" textLength="141.4" lengthAdjust="spacingAndGlyphs" >mcplots.cern.ch [arXiv:1306.3436]</text></g>
<text x="168.0" y="301.6" font-size="8.7" font-family="Liberation Sans, sans-serif" fill="#9a9a9a" text-anchor="start" textLength="80" lengthAdjust="spacingAndGlyphs" >ATLAS_2011_I919017</text>
<rect x="73.65" y="221.15" width="5.5" height="5.5" fill="#000"/>
<text x="94.3" y="227.1" font-size="10.3" font-family="Liberation Sans, sans-serif" fill="#000" text-anchor="start" textLength="29.2" lengthAdjust="spacingAndGlyphs" >ATLAS</text>
<path d="M64.0,236.79999999999998H88.3" stroke="#b8621c" stroke-width="1.0" stroke-dasharray="2.5 2"/>
<circle cx="76.40" cy="237.10" r="2.6" fill="none" stroke="#b8621c" stroke-width="1.1"/>
<text x="94.3" y="240.5" font-size="10.2" font-family="Liberation Sans, sans-serif" fill="#000" text-anchor="start" textLength="94.0" lengthAdjust="spacingAndGlyphs" >Herwig++ 2.7.1 default</text>
<path d="M64.0,249.89999999999998H88.3" stroke="#30a018" stroke-width="1.0" stroke-dasharray="2.5 2"/>
<rect x="73.60" y="247.40" width="5.6" height="5.6" fill="none" stroke="#30a018" stroke-width="1.1"/>
<text x="94.3" y="253.6" font-size="10.2" font-family="Liberation Sans, sans-serif" fill="#000" text-anchor="start" textLength="83.4" lengthAdjust="spacingAndGlyphs" >Herwig 7.2.1 default</text>
<path d="M64.0,263.0H88.3" stroke="#0000ff" stroke-width="1.0"/>
<path d="M73.40,265.48L79.40,265.48L76.40,260.28Z" fill="#0000ff"/>
<text x="94.3" y="266.7" font-size="10.2" font-family="Liberation Sans, sans-serif" fill="#000" text-anchor="start" textLength="83.2" lengthAdjust="spacingAndGlyphs" >Pythia 8.308 default</text>
<path d="M64.0,276.0H88.3" stroke="#ff0000" stroke-width="1.0" stroke-dasharray="1 1.4"/>
<path d="M76.40,272.90L79.10,276.30L76.40,279.70L73.70,276.30Z" fill="#ff0000"/>
<text x="94.3" y="279.7" font-size="10.2" font-family="Liberation Sans, sans-serif" fill="#000" text-anchor="start" textLength="83.6" lengthAdjust="spacingAndGlyphs" >Sherpa 2.2.9 default</text>
</svg></body></html>
